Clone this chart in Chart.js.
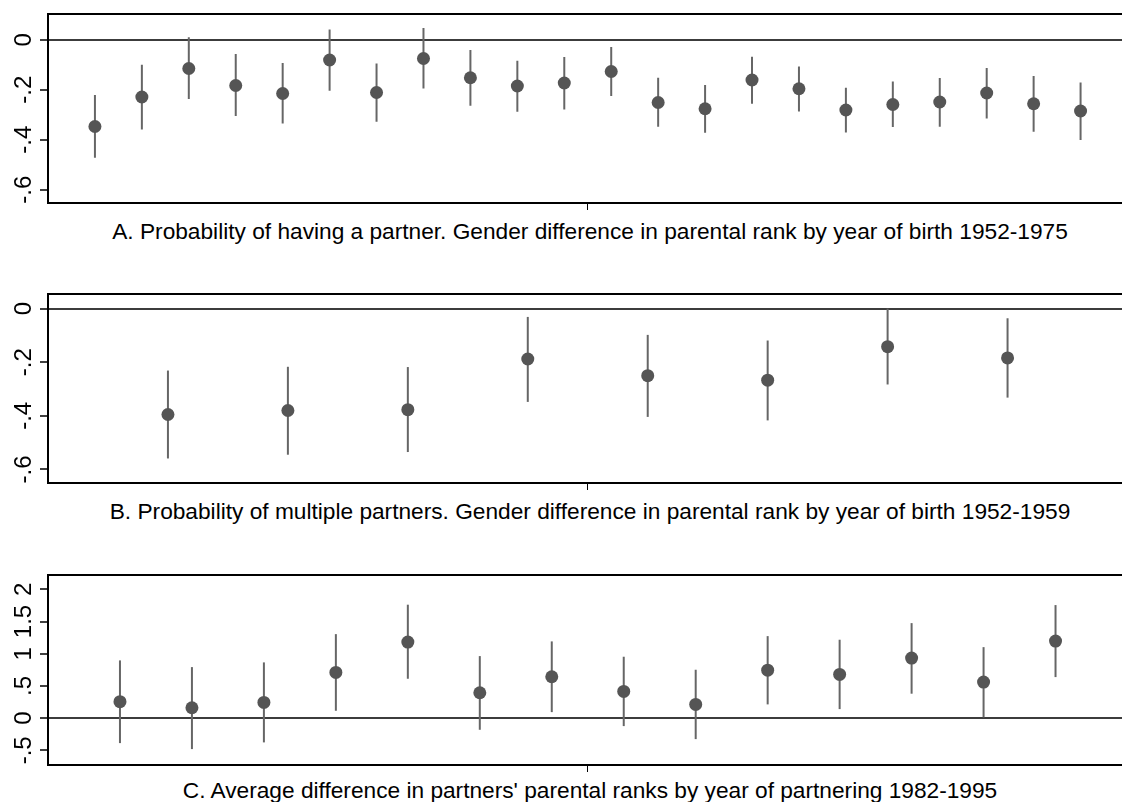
<!DOCTYPE html>
<html><head><meta charset="utf-8">
<script src="https://cdn.jsdelivr.net/npm/chart.js@4.4.1/dist/chart.umd.min.js"></script>
<style>
html,body{margin:0;padding:0;background:#fff;overflow:hidden;width:1122px;height:802px;position:relative;}
canvas{position:absolute;left:0;}
.ttl{position:absolute;left:0;width:1180px;text-align:center;font-family:"Liberation Sans",Arial,sans-serif;font-size:22.7px;line-height:22px;color:#000;white-space:nowrap;}
</style></head><body>
<canvas id="cA" width="1134" height="211" style="top:4px"></canvas>
<canvas id="cB" width="1134" height="211" style="top:284px"></canvas>
<canvas id="cC" width="1134" height="212" style="top:565px"></canvas>
<div class="ttl" style="top:219.5px">A. Probability of having a partner. Gender difference in parental rank by year of birth 1952-1975</div>
<div class="ttl" style="top:499.8px">B. Probability of multiple partners. Gender difference in parental rank by year of birth 1952-1959</div>
<div class="ttl" style="top:779px">C. Average difference in partners' parental ranks by year of partnering 1982-1995</div>
<script>
// Panel A: 22 estimates with 95% CI
const aEst = [-0.347,-0.229,-0.115,-0.183,-0.215,-0.081,-0.211,-0.075,-0.152,-0.185,-0.173,-0.127,-0.251,-0.276,-0.161,-0.196,-0.281,-0.259,-0.249,-0.213,-0.256,-0.285];
const aLo  = [-0.472,-0.359,-0.237,-0.305,-0.335,-0.204,-0.328,-0.195,-0.264,-0.288,-0.279,-0.225,-0.348,-0.372,-0.256,-0.287,-0.371,-0.349,-0.348,-0.315,-0.368,-0.401];
const aHi  = [-0.221,-0.100,0.010,-0.057,-0.093,0.041,-0.095,0.047,-0.041,-0.084,-0.069,-0.029,-0.152,-0.181,-0.068,-0.107,-0.192,-0.167,-0.153,-0.113,-0.145,-0.171];
const aTicks = [-0.6,-0.4,-0.2,0];
const aTickLabels = ['-.6','-.4','-.2','0'];

// Panel B: 8 estimates
const bEst = [-0.395,-0.380,-0.377,-0.188,-0.250,-0.267,-0.142,-0.184];
const bLo  = [-0.559,-0.545,-0.535,-0.348,-0.404,-0.417,-0.283,-0.332];
const bHi  = [-0.231,-0.217,-0.218,-0.031,-0.098,-0.119,0.000,-0.036];
const bTicks = [-0.6,-0.4,-0.2,0];
const bTickLabels = ['-.6','-.4','-.2','0'];

// Panel C: 14 estimates
const cEst = [0.255,0.161,0.244,0.710,1.180,0.394,0.642,0.414,0.213,0.745,0.679,0.932,0.559,1.196];
const cLo  = [-0.388,-0.481,-0.377,0.114,0.611,-0.181,0.093,-0.124,-0.326,0.213,0.140,0.379,0.011,0.637];
const cHi  = [0.896,0.792,0.865,1.304,1.761,0.963,1.191,0.953,0.751,1.273,1.217,1.475,1.102,1.755];
const cTicks = [-0.5,0,0.5,1,1.5,2];
const cTickLabels = ['-.5','0','.5','1','1.5','2'];

Chart.defaults.font.family = '"Liberation Sans", Arial, sans-serif';
Chart.defaults.color = '#000';

const errPlugin = {
  id: 'errbars',
  beforeDatasetsDraw(chart, args, opts) {
    const {ctx, scales: {x, y}} = chart;
    ctx.save();
    ctx.strokeStyle = '#666';
    ctx.lineWidth = 2;
    opts.lo.forEach((lo, i) => {
      const px = x.getPixelForValue(i + 1);
      ctx.beginPath();
      ctx.moveTo(px, y.getPixelForValue(lo));
      ctx.lineTo(px, y.getPixelForValue(opts.hi[i]));
      ctx.stroke();
    });
    ctx.restore();
  },
  afterDraw(chart, args, opts) {
    const {ctx, chartArea: a, scales: {y}} = chart;
    ctx.save();
    ctx.strokeStyle = '#000';
    ctx.lineWidth = 2;
    ctx.beginPath();
    ctx.moveTo(a.left - 1, a.top);
    ctx.lineTo(a.right, a.top);
    ctx.lineTo(a.right, a.bottom);
    ctx.stroke();
    // rotated y tick labels, placed with the y scale
    ctx.fillStyle = '#000';
    ctx.font = '24px "Liberation Sans", Arial, sans-serif';
    ctx.textAlign = 'center';
    ctx.textBaseline = 'alphabetic';
    y.ticks.forEach((t, i) => {
      ctx.save();
      ctx.translate(a.left - 17.5, y.getPixelForValue(t.value));
      ctx.rotate(-Math.PI / 2);
      ctx.fillText(opts.labels[i], 0, 0);
      ctx.restore();
    });
    ctx.restore();
  }
};

function makePanel(id, est, lo, hi, yMin, yMax, ticks, tickLabels) {
  const n = est.length;
  new Chart(document.getElementById(id), {
    type: 'scatter',
    data: {
      datasets: [{
        data: est.map((v, i) => ({x: i + 1, y: v})),
        pointRadius: 6.5,
        pointHoverRadius: 6.5,
        pointBackgroundColor: '#555',
        pointBorderWidth: 0,
        showLine: false
      }]
    },
    options: {
      responsive: false,
      animation: false,
      devicePixelRatio: 1,
      events: [],
      layout: {padding: {top: 10, left: 0, right: 2, bottom: 0}},
      plugins: {
        legend: {display: false},
        tooltip: {enabled: false},
        errbars: {lo: lo, hi: hi, labels: tickLabels}
      },
      scales: {
        x: {
          type: 'linear',
          min: 0,
          max: n + 1,
          afterBuildTicks: s => { s.ticks = [{value: (n + 1) / 2}]; },
          afterFit: s => { s.height = 12; s.paddingLeft = 0; s.paddingRight = 0; },
          ticks: {display: false},
          grid: {drawOnChartArea: false, drawTicks: true, tickLength: 7, tickColor: '#000', tickWidth: 1},
          border: {display: true, color: '#000', width: 2}
        },
        y: {
          min: yMin,
          max: yMax,
          afterBuildTicks: s => { s.ticks = ticks.map(v => ({value: v})); },
          afterFit: s => { s.width = 48; s.paddingTop = 0; s.paddingBottom = 0; },
          ticks: {display: false},
          grid: {
            drawOnChartArea: true,
            drawTicks: true,
            tickLength: 8,
            tickColor: '#000',
            tickWidth: 1.5,
            lineWidth: 2,
            color: c => (c.tick && c.tick.value === 0) ? '#3c3c3c' : 'rgba(0,0,0,0)'
          },
          border: {display: true, color: '#000', width: 2}
        }
      }
    },
    plugins: [errPlugin]
  });
}

makePanel('cA', aEst, aLo, aHi, -0.653, 0.103, aTicks, aTickLabels);
makePanel('cB', bEst, bLo, bHi, -0.6505, 0.0545, bTicks, bTickLabels);
makePanel('cC', cEst, cLo, cHi, -0.728, 2.222, cTicks, cTickLabels);
</script>
</body></html>
